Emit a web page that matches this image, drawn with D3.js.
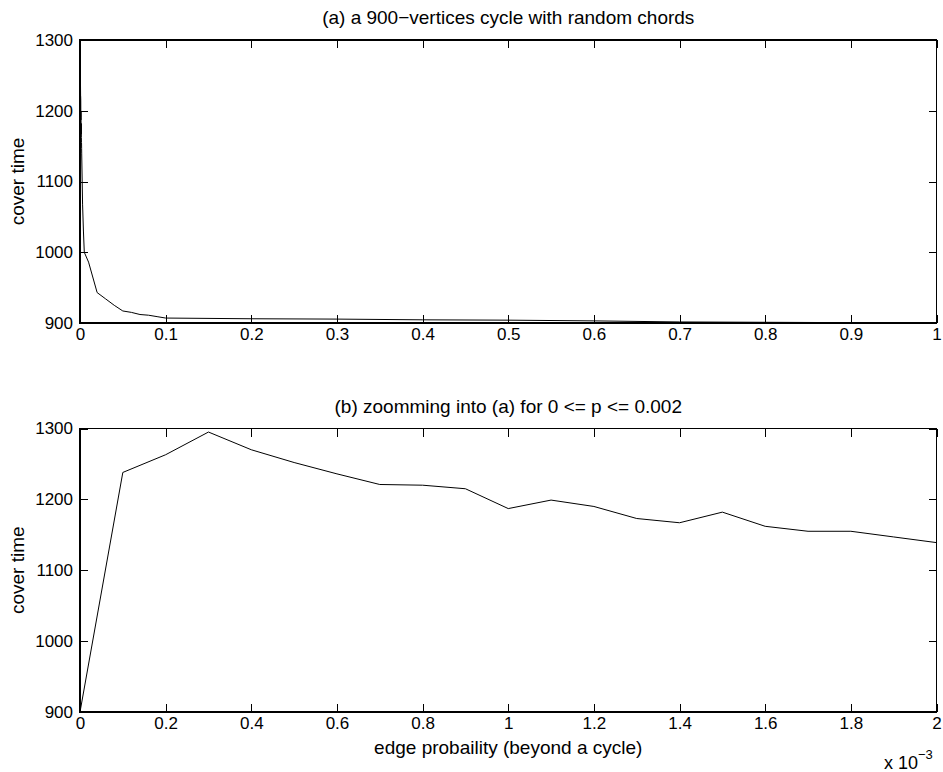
<!DOCTYPE html>
<html>
<head>
<meta charset="utf-8">
<script src="https://cdn.jsdelivr.net/npm/d3@7"></script>
<style>
  body { margin: 0; background: #fff; }
  text { font-family: "Liberation Sans", Arial, Helvetica, sans-serif; fill: #000; }
</style>
</head>
<body>
<div id="chart"></div>
<script>
// zoomed data, p in units of 1e-3
const probZoom = [0, 0.1, 0.2, 0.3, 0.4, 0.5, 0.6, 0.7, 0.8, 0.9, 1.0,
                  1.1, 1.2, 1.3, 1.4, 1.5, 1.6, 1.7, 1.8, 1.9, 2.0];
const coverZoom = [900, 1238, 1263, 1295, 1270, 1252, 1236, 1221, 1220, 1215, 1187,
                   1199, 1190, 1173, 1167, 1182, 1162, 1155, 1155, 1147, 1139];

// rest of the full range (p as is)
const probWide = [0.003, 0.004, 0.005, 0.01, 0.02, 0.03, 0.04, 0.05, 0.06, 0.07, 0.08, 0.09,
                  0.1, 0.2, 0.3, 0.4, 0.5, 0.6, 0.7, 0.8, 0.9, 1.0];
const coverWide = [1068, 1030, 1000, 986, 943, 934, 925, 917, 915, 912, 911, 909,
                   907, 906, 905.5, 904.5, 904, 903, 901.5, 901, 900.5, 900];

const yTicks = [900, 1000, 1100, 1200, 1300];
const xTicksTop = [0, 0.1, 0.2, 0.3, 0.4, 0.5, 0.6, 0.7, 0.8, 0.9, 1];
const xTicksBottom = [0, 0.2, 0.4, 0.6, 0.8, 1, 1.2, 1.4, 1.6, 1.8, 2];

const titleTop = "(a) a 900\u2212vertices cycle with random chords";
const titleBottom = "(b) zoomming into (a) for 0 <= p <= 0.002";
const yLabel = "cover time";
const xLabel = "edge probaility (beyond a cycle)";

const W = 943, H = 772;
const left = 80, right = 936.5;
const fs = 17;      // tick labels
const fsLab = 19;   // titles and axis labels

const svg = d3.select("#chart").append("svg")
    .attr("width", W).attr("height", H);

const topData = probZoom.map((p, i) => [p * 1e-3, coverZoom[i]])
    .concat(probWide.map((p, i) => [p, coverWide[i]]));
const bottomData = probZoom.map((p, i) => [p, coverZoom[i]]);

function panel(top, bottom, xDomain, xTicks, data, title) {
    const x = d3.scaleLinear().domain(xDomain).range([left, right]);
    const y = d3.scaleLinear().domain([900, 1300]).range([bottom, top]);
    const g = svg.append("g");
    const tick = 8;

    const fmt = d => String(d);

    // bottom axis with labels
    const ax = g.append("g").attr("transform", `translate(0,${bottom})`)
        .call(d3.axisBottom(x).tickValues(xTicks).tickFormat(fmt).tickSizeInner(-tick).tickSizeOuter(0).tickPadding(5));
    // top axis ticks only
    const axT = g.append("g").attr("transform", `translate(0,${top})`)
        .call(d3.axisTop(x).tickValues(xTicks).tickFormat("").tickSizeInner(-tick).tickSizeOuter(0));
    // left axis with labels
    const ay = g.append("g").attr("transform", `translate(${left},0)`)
        .call(d3.axisLeft(y).tickValues(yTicks).tickFormat(fmt).tickSizeInner(-tick).tickSizeOuter(0).tickPadding(7));
    const ayR = g.append("g").attr("transform", `translate(${right},0)`)
        .call(d3.axisRight(y).tickValues(yTicks).tickFormat("").tickSizeInner(-tick).tickSizeOuter(0));

    [ax, axT, ay, ayR].forEach(a => {
        a.select(".domain").remove();
        a.selectAll("line").attr("stroke", "#000").attr("shape-rendering", "crispEdges");
        a.selectAll("text").attr("font-size", fs)
            .attr("font-family", "'Liberation Sans', Arial, Helvetica, sans-serif").attr("fill", "#000");
    });

    // box
    g.append("rect")
        .attr("x", left).attr("y", top)
        .attr("width", right - left).attr("height", bottom - top)
        .attr("fill", "none").attr("stroke", "#000").attr("stroke-width", 1.2)
        .attr("shape-rendering", "crispEdges");

    // line
    const line = d3.line().x(d => x(d[0])).y(d => y(d[1]));
    g.append("path").datum(data)
        .attr("d", line)
        .attr("fill", "none").attr("stroke", "#000").attr("stroke-width", 1);

    g.append("text")
        .attr("x", (left + right) / 2).attr("y", top - 16)
        .attr("text-anchor", "middle").attr("font-size", fsLab)
        .text(title);

    g.append("text")
        .attr("transform", `translate(24,${(top + bottom) / 2}) rotate(-90)`)
        .attr("text-anchor", "middle").attr("font-size", fsLab)
        .text(yLabel);
    return { x, y };
}

panel(40, 323, [0, 1], xTicksTop, topData, titleTop);
panel(428.5, 712, [0, 2], xTicksBottom, bottomData, titleBottom);

svg.append("text")
    .attr("x", (left + right) / 2).attr("y", 754)
    .attr("text-anchor", "middle").attr("font-size", fsLab)
    .text(xLabel);

const sci = svg.append("text")
    .attr("x", 884).attr("y", 769).attr("font-size", 18);
sci.append("tspan").text("x 10");
sci.append("tspan").attr("dy", -10).attr("font-size", 13).text("\u22123");
</script>
</body>
</html>
